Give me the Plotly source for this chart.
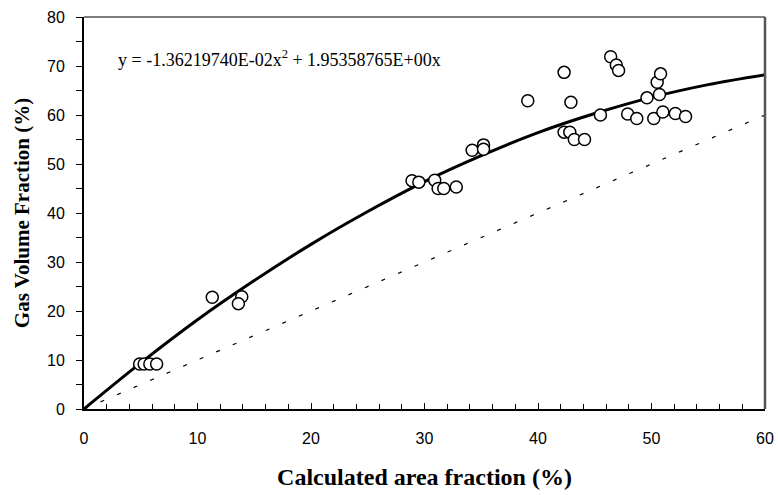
import plotly.graph_objects as go

meas_x = [4.9, 5.3, 5.8, 6.4, 11.3, 13.9, 13.6,
          28.9, 29.5, 30.9, 31.2, 31.7, 32.8,
          34.2, 35.2, 35.2,
          39.1, 42.3, 42.9, 42.3, 42.8, 43.2, 44.1, 45.5,
          46.4, 46.9, 47.1, 47.9, 48.7, 49.6, 50.5, 50.8, 50.7, 50.2, 51.0, 52.1, 53.0]
meas_y = [9.2, 9.2, 9.2, 9.2, 22.8, 22.9, 21.5,
          46.6, 46.3, 46.7, 45.0, 45.0, 45.3,
          52.8, 53.9, 53.0,
          62.9, 68.7, 62.6, 56.5, 56.5, 55.0, 55.0, 60.0,
          71.9, 70.2, 69.1, 60.2, 59.3, 63.5, 66.7, 68.4, 64.2, 59.3, 60.6, 60.3, 59.7]

# Fitted curve
fit_x = [0, 5, 10, 15, 20, 25, 30, 35, 40, 45, 50, 55, 60]
fit_y = [0, 9.4, 18.2, 26.2, 33.6, 40.3, 46.4, 51.7, 56.4, 60.3, 63.6, 66.2, 68.2]

# Reference line y = x
ref_x = [0, 60]
ref_y = [0, 60]

x_ticks = [0, 10, 20, 30, 40, 50, 60]
y_ticks = [0, 10, 20, 30, 40, 50, 60, 70, 80]

fig = go.Figure()
fig.add_trace(go.Scatter(x=ref_x, y=ref_y, mode="lines",
                         line=dict(color="black", width=1.2, dash="4px,14px"),
                         showlegend=False, hoverinfo="skip"))
fig.add_trace(go.Scatter(x=fit_x, y=fit_y, mode="lines",
                         line=dict(color="black", width=3, shape="spline"),
                         showlegend=False, cliponaxis=False))
fig.add_trace(go.Scatter(x=meas_x, y=meas_y, mode="markers",
                         marker=dict(symbol="circle", size=12, color="white",
                                     line=dict(color="black", width=1.5)),
                         showlegend=False))

fig.add_annotation(x=0.047, y=0.893, xref="paper", yref="paper",
                   text="y = -1.36219740E-02x<sup>2</sup> + 1.95358765E+00x",
                   showarrow=False, xanchor="left", yanchor="middle",
                   font=dict(family="Liberation Serif", size=18, color="black"))

# top and right frame
fig.add_shape(type="line", xref="paper", yref="paper", x0=0, x1=1, y0=1, y1=1,
              line=dict(color="black", width=1))
fig.add_shape(type="line", xref="paper", yref="paper", x0=1, x1=1, y0=0, y1=1,
              line=dict(color="#555555", width=2.5))

fig.update_layout(
    width=778, height=495,
    margin=dict(l=84, r=13, t=17, b=86, autoexpand=False),
    paper_bgcolor="white", plot_bgcolor="white",
    font=dict(family="Liberation Sans", color="black"),
    xaxis=dict(range=[0, 60], tickvals=x_ticks, ticks="inside", ticklen=6,
               tickcolor="black", showline=True, linecolor="black", linewidth=2,
               showgrid=False, zeroline=False, automargin=False,
               tickfont=dict(family="Liberation Sans", size=16),
               ticklabelstandoff=14,
               minor=dict(dtick=2, ticks="inside", ticklen=5, tickcolor="black", showgrid=False),
               title=dict(text="Calculated area fraction (%)", standoff=22,
                          font=dict(family="Liberation Serif", size=24, weight="bold"))),
    yaxis=dict(range=[0, 80], tickvals=y_ticks, ticks="outside", ticklen=6,
               tickcolor="black", showline=True, linecolor="black", linewidth=2,
               showgrid=False, zeroline=False, automargin=False,
               tickfont=dict(family="Liberation Sans", size=16),
               ticklabelstandoff=8,
               minor=dict(dtick=5, ticks="outside", ticklen=6, tickcolor="black", showgrid=False),
               title=dict(text="Gas Volume Fraction (%)", standoff=12,
                          font=dict(family="Liberation Serif", size=21, weight="bold"))),
)

fig.write_html("out.html")
